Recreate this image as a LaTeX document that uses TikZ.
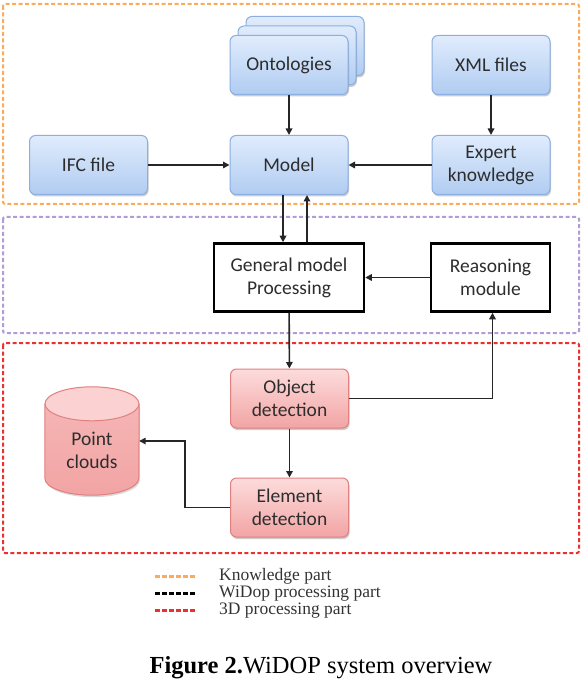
\documentclass[tikz,border=0pt]{standalone}
\usepackage{fontspec}
\setmainfont{Liberation Serif}
\newfontfamily\boxfont{Carlito}
\usepackage{tikz}
\usetikzlibrary{arrows.meta,shadows}
\definecolor{blueline}{RGB}{140,174,224}
\definecolor{bluetop}{RGB}{224,236,252}
\definecolor{bluebot}{RGB}{176,204,242}
\definecolor{redline}{RGB}{224,128,128}
\definecolor{redtop}{RGB}{253,220,220}
\definecolor{redbot}{RGB}{242,164,164}
\definecolor{boxtext}{RGB}{45,45,45}
\definecolor{knowpart}{RGB}{250,172,92}
\definecolor{procpart}{RGB}{176,156,214}
\definecolor{threedpart}{RGB}{236,48,48}

\begin{document}
\begin{tikzpicture}[x=1pt,y=-1pt,
  boxfont/.style={font=\boxfont\fontsize{19.5}{23}\selectfont,text=boxtext},
  bluebox/.style={draw=blueline,line width=1pt,rounded corners=6pt,
     top color=bluetop,bottom color=bluebot,minimum width=118pt,minimum height=59pt,
     align=center,boxfont,
     drop shadow={shadow xshift=1pt,shadow yshift=-2pt,opacity=0.2,fill=black}},
  redbox/.style={bluebox,draw=redline,top color=redtop,bottom color=redbot},
  procbox/.style={draw=black,line width=2.5pt,fill=white,minimum height=68pt,
     align=center,boxfont},
  part/.style={line width=2pt,dash pattern=on 4pt off 2.5pt,rounded corners=2pt},
  legline/.style={line width=2.2pt,dash pattern=on 4.5pt off 2.5pt},
  legtext/.style={anchor=west,inner sep=0pt,font=\fontsize{17.5}{17}\selectfont,text=black!80},
  arr/.style={draw=black!85,line width=1.6pt,-{Triangle[length=6.5pt,width=6.5pt]}}]
\useasboundingbox (0,0) rectangle (582,684);
% parts
\draw[part,knowpart] (3,4) rectangle (579,204);
\draw[part,procpart] (3,217) rectangle (579,333);
\draw[part,threedpart] (3,343) rectangle (579,553);
% knowledge
\node[bluebox] (ont3) at (305,46) {};
\node[bluebox] (ont2) at (297,55.5) {};
\node[bluebox] (ont) at (289,65) {Ontologies};
\node[bluebox] (xml) at (491,65) {XML files};
\node[bluebox] (ifc) at (88.5,165) {IFC file};
\node[bluebox] (model) at (289,165) {Model};
\node[bluebox] (expert) at (491,165) {Expert\\knowledge};
% processing
\node[procbox,minimum width=150pt] (gmp) at (289,277.5) {General model\\Processing};
\node[procbox,minimum width=119pt] (reason) at (490.5,277.5) {Reasoning\\module};
% 3D
\node[redbox] (objdet) at (289.5,398.5) {Object\\detection};
\node[redbox] (eldet) at (289.5,507.5) {Element\\detection};
\node[minimum width=94pt,minimum height=108pt,inner sep=0pt] (pc) at (92,441) {};
\fill[black,opacity=0.15] ([xshift=1pt,yshift=-19pt]pc.north west) -- ([xshift=1pt,yshift=15pt]pc.south west)
  arc[start angle=180,end angle=360,x radius=47pt,y radius=17pt] -- ([xshift=1pt,yshift=-19pt]pc.north east) -- cycle;
\draw[redline,line width=1pt,top color=redbot!70!redtop,bottom color=redbot]
  ([yshift=-17pt]pc.north west) -- ([yshift=17pt]pc.south west)
  arc[start angle=180,end angle=360,x radius=47pt,y radius=17pt] -- ([yshift=-17pt]pc.north east);
\draw[redline,line width=1pt,fill=redtop!80!redbot] ([yshift=-17pt]pc.north) ellipse[x radius=47pt,y radius=17pt];
\node[align=center,boxfont] (pctext) at (92,450) {Point\\clouds};
% connectors
\draw[arr] (ont) -- (model);
\draw[arr] (xml) -- (expert);
\draw[arr] (ifc) -- (model);
\draw[arr] (expert) -- (model);
\draw[arr] ([xshift=-6pt]model.south) -- ([xshift=-6pt]gmp.north);
\draw[arr] ([xshift=18pt]gmp.north) -- ([xshift=18pt]model.south);
\draw[arr] (reason) -- (gmp);
\draw[arr] (gmp) -- (objdet);
\draw[arr] (objdet.east) -| ([xshift=2pt]reason.south);
\draw[arr] (objdet) -- (eldet);
\draw[arr] (eldet.west) -- ++(-45,0) |- (pc.east);
% legend
\coordinate (k0) at (155,576.5); \coordinate (k1) at (197,576.5);
\coordinate (w0) at (155,593.5); \coordinate (w1) at (197,593.5);
\coordinate (d0) at (155,610.5); \coordinate (d1) at (197,610.5);
\draw[legline,knowpart] (k0) -- (k1);
\draw[legline,black] (w0) -- (w1);
\draw[legline,threedpart] (d0) -- (d1);
\node[legtext] (kl) at (219,576.5) {Knowledge part};
\node[legtext] (wl) at (219,593.5) {WiDop processing part};
\node[legtext] (dl) at (219,610.5) {3D processing part};
\node[font=\fontsize{24.5}{28}\selectfont] (cap) at (321,668) {\textbf{Figure 2.}WiDOP system overview};
\end{tikzpicture}
\end{document}
